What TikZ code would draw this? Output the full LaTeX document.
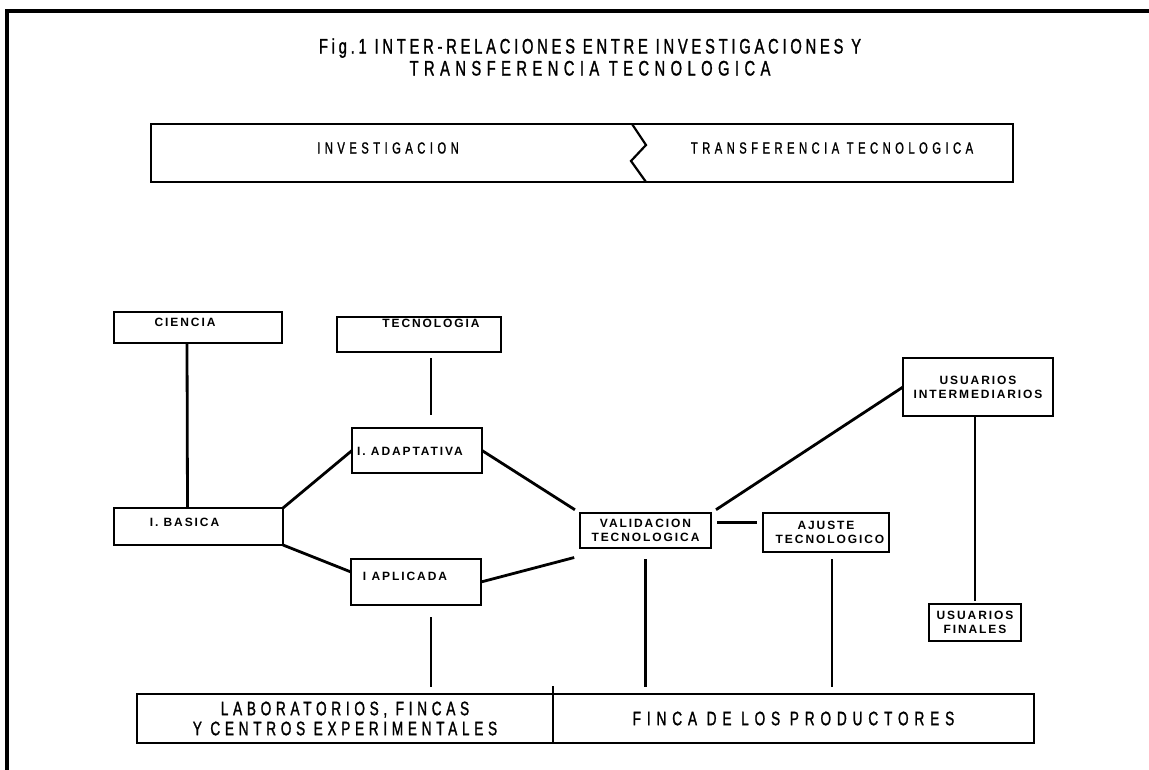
\documentclass[tikz,border=0pt]{standalone}
\usepackage{fontspec}
\setmainfont{Liberation Sans}
\newfontfamily\letterfont{Liberation Sans}[FakeStretch=0.7,FakeBold=1.2,LetterSpace=18]
\newfontfamily\stampfont{Liberation Sans}[LetterSpace=16]
\usepackage{tikz}
\usetikzlibrary{positioning}

\begin{document}
\begin{tikzpicture}[x=1pt,y=-1pt,line width=2.8pt,
        stage node/.style={draw,rectangle,inner sep=1pt,outer sep=0pt,align=center,
          font=\stampfont\bfseries\fontsize{12}{14}\selectfont},
        tag/.style={inner sep=1pt,font=\stampfont\bfseries\fontsize{12}{14}\selectfont},
        base node/.style={draw,rectangle,inner sep=1pt,outer sep=0pt,align=center,
          font=\letterfont\fontsize{19.5}{20}\selectfont\addfontfeatures{LetterSpace=24}},
        heading/.style={align=center,font=\letterfont\fontsize{21}{22}\selectfont},
        bartext/.style={font=\letterfont\fontsize{16}{18}\selectfont\addfontfeatures{LetterSpace=28}}]

    \useasboundingbox (0,0) rectangle (1149,770);
    \draw[line width=3.5pt] (7,770) -- (7,11) -- (1149,11);

    \node[heading] (title) at (590,57)
      {Fig.1 INTER-RELACIONES ENTRE INVESTIGACIONES Y\\{\addfontfeatures{LetterSpace=26}TRANSFERENCIA TECNOLOGICA}};

    % franja investigacion / transferencia
    \node[draw,rectangle,outer sep=0pt,minimum width=862,minimum height=58] (bar) at (582,153) {};
    \draw[line width=2.2pt] (632,124) -- (646,145) -- (631,161) -- (646,182);
    \node[bartext] (inv) at (388,148) {INVESTIGACION};
    \node[bartext] (trans) at (832,148) {TRANSFERENCIA TECNOLOGICA};

    \node[stage node,minimum width=168,minimum height=31,
          label={[tag,anchor=north,xshift=-13pt,yshift=-4pt]north:CIENCIA}] (ciencia) at (198,327.5) {};
    \node[stage node,minimum width=164,minimum height=35,
          label={[tag,anchor=north,xshift=12pt,yshift=0pt]north:TECNOLOGIA}] (tecno) at (419,334.5) {};
    \node[stage node,minimum width=130,minimum height=45,
          label={[tag,xshift=-7pt,yshift=-1pt]center:I. ADAPTATIVA}] (adapt) at (417,450.5) {};
    \node[stage node,minimum width=169,minimum height=37,
          label={[tag,xshift=-14pt,yshift=4pt]center:I. BASICA}] (basica) at (198.5,526.5) {};
    \node[stage node,minimum width=130,minimum height=46,
          label={[tag,xshift=-11pt,yshift=6pt]center:I APLICADA}] (aplic) at (416,582) {};
    \node[stage node,minimum width=131,minimum height=35] (valid) at (645.5,530.5) {VALIDACION\\TECNOLOGICA};
    \node[stage node,minimum width=126,minimum height=39] (ajuste) at (826,532.5) {AJUSTE\\\hspace*{8pt}TECNOLOGICO};
    \node[stage node,minimum width=150,minimum height=58] (interm) at (978,387) {USUARIOS\\INTERMEDIARIOS};
    \node[stage node,minimum width=92,minimum height=37] (finales) at (975,622.5) {USUARIOS\\FINALES};

    \node[base node,minimum width=416,minimum height=49] (lab) at (345,718.5)
      {LABORATORIOS, FINCAS\\Y CENTROS EXPERIMENTALES};
    \node[base node,minimum width=481,minimum height=49,right=0pt of lab,
          font=\letterfont\fontsize{19.5}{20}\selectfont\addfontfeatures{LetterSpace=30}] (finca)
      {FINCA DE LOS PRODUCTORES};
    \draw (lab.north east) -- ++(0,-8);

    \draw ([xshift=-11pt]ciencia.south) -- ([xshift=-11pt]basica.north);
    \draw[shorten <=6pt,shorten >=13pt] ([xshift=12pt]tecno.south) -- ([xshift=14pt]adapt.north);
    \draw (basica.north east) -- (adapt.west);
    \draw (basica.south east) -- ([yshift=-13pt]aplic.north west);
    \draw[shorten >=6pt] (adapt.east) -- (valid.north west);
    \draw[shorten >=6pt] (aplic.east) -- ([yshift=-8pt]valid.south west);
    \draw[shorten <=6pt] (valid.north east) -- (interm.west);
    \draw[shorten <=6pt,shorten >=6pt] ([yshift=8pt]valid.east) -- ([yshift=8pt]valid.east -| ajuste.west);
    \draw[shorten >=3pt] (finales.north |- interm.south) -- (finales.north);

    \draw[shorten <=12pt,shorten >=7pt] ([xshift=15pt]aplic.south) -- ([xshift=15pt]aplic.south |- lab.north);
    \draw[shorten <=11pt,shorten >=7pt] (valid.south) -- (valid.south |- finca.north);
    \draw[shorten <=7pt,shorten >=7pt] ([xshift=6pt]ajuste.south) -- ([xshift=6pt]ajuste.south |- finca.north);
\end{tikzpicture}
\end{document}
